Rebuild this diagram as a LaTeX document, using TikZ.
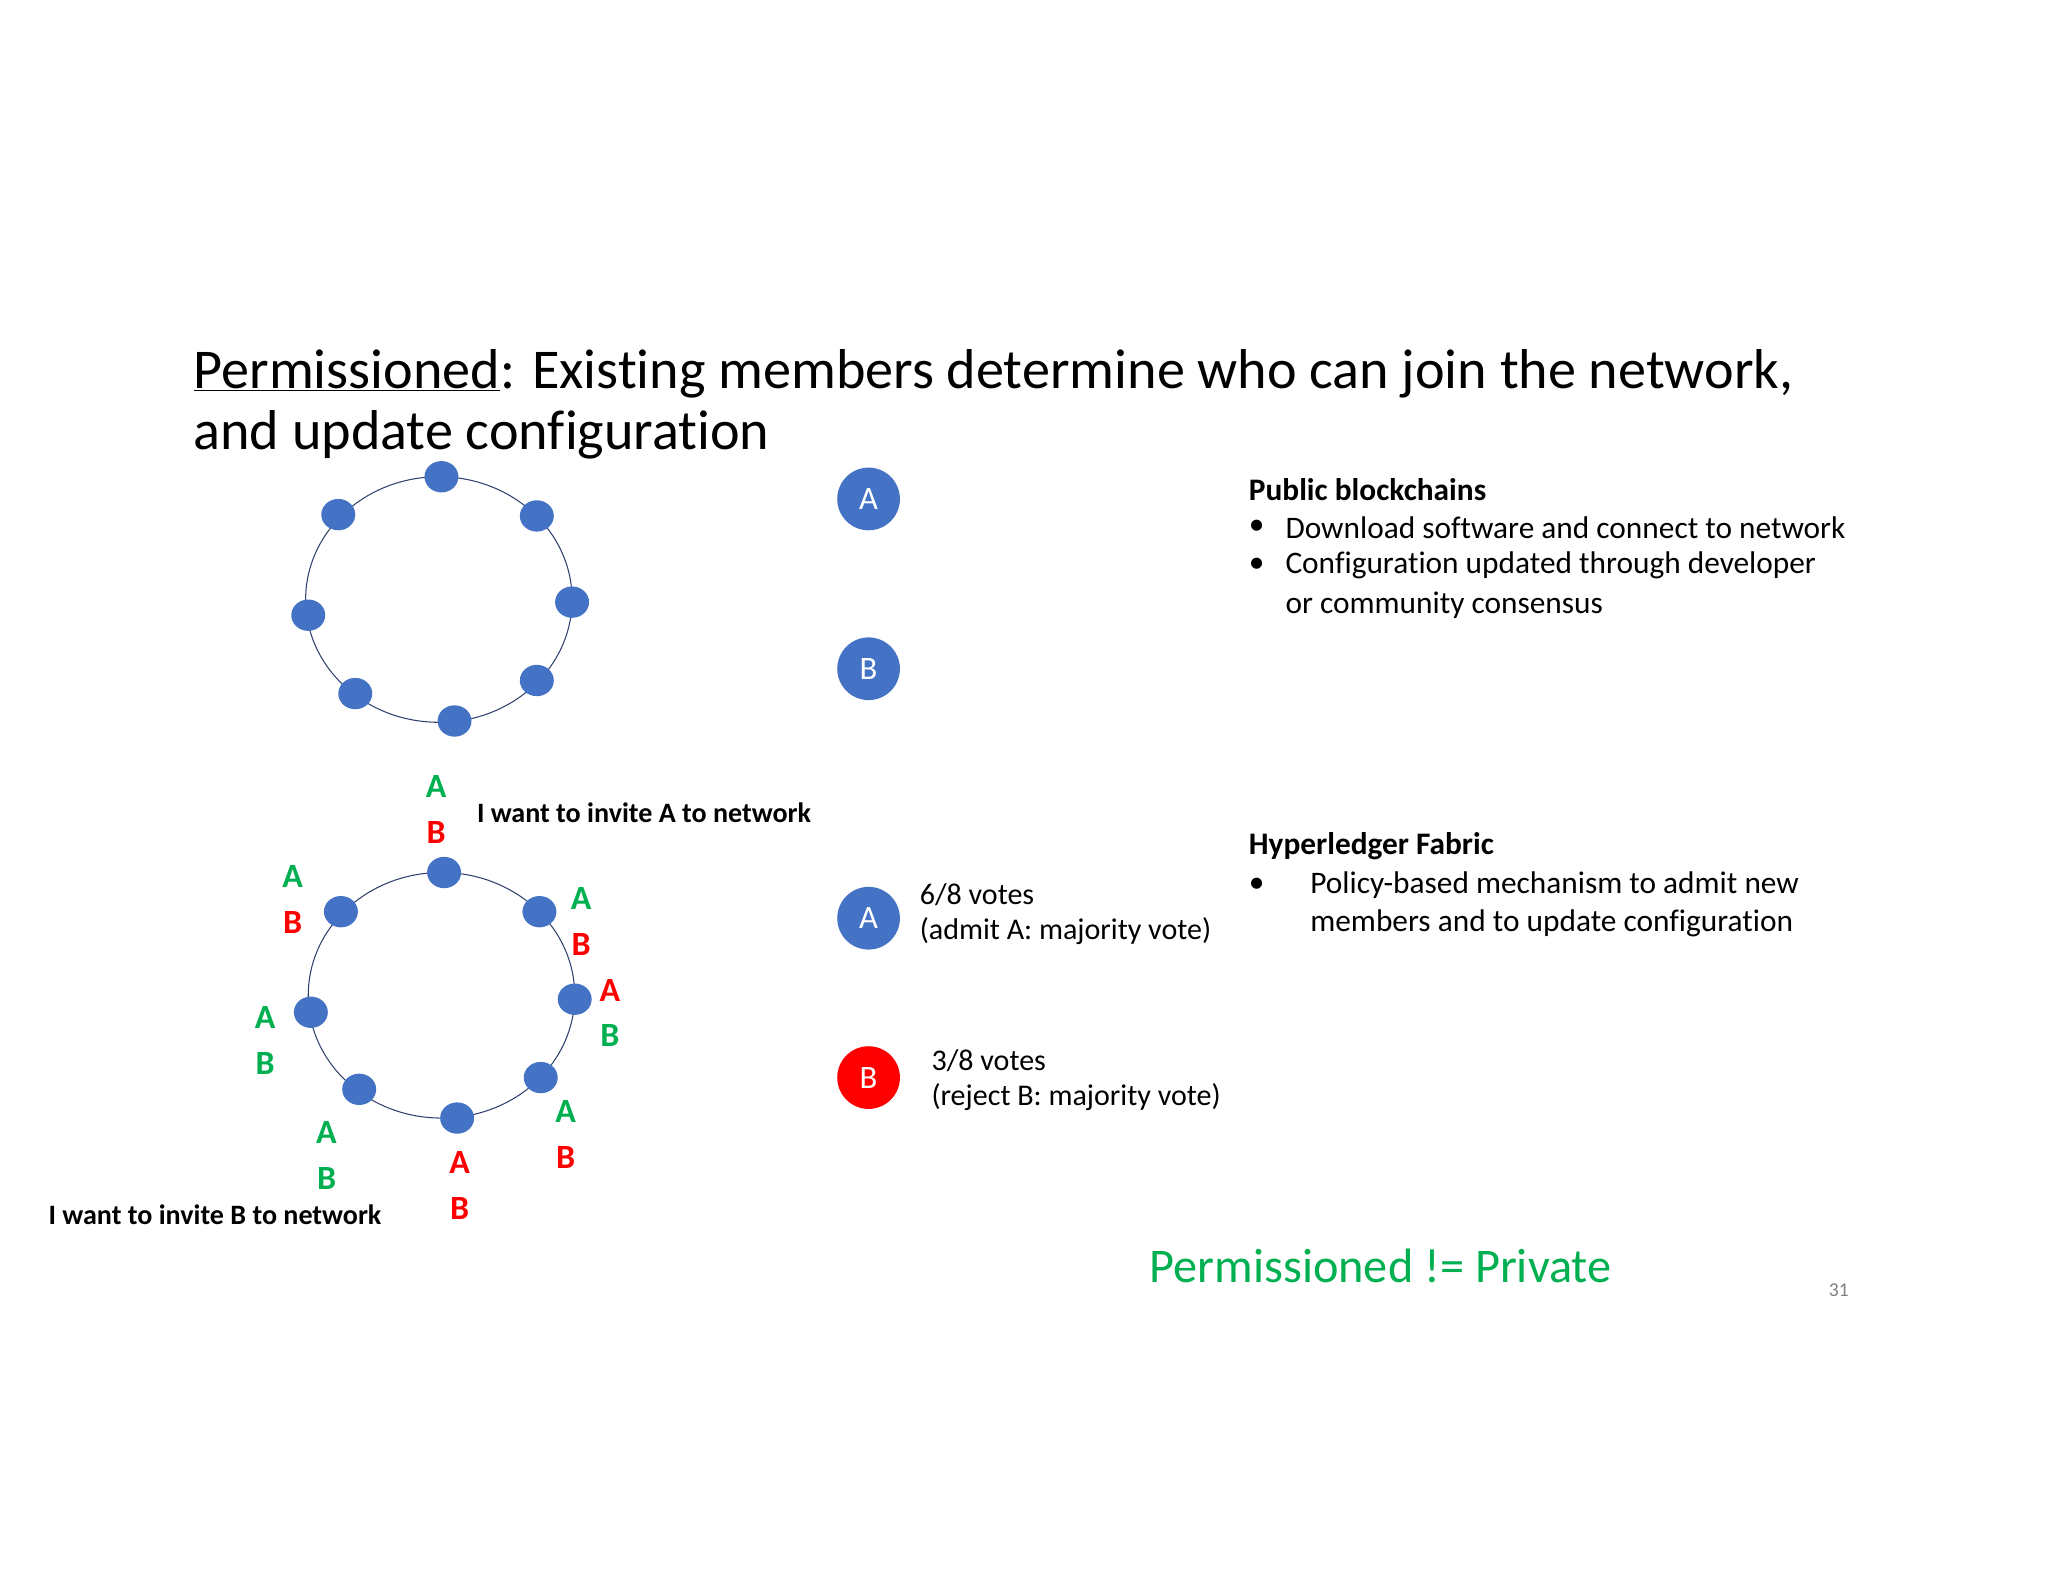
\documentclass[tikz,border=0pt]{standalone}
\usepackage{fontspec}
\setmainfont{Carlito}[Ligatures=NoCommon]
\usetikzlibrary{shapes.geometric}
\definecolor{nb}{HTML}{4472C4}
\definecolor{gr}{HTML}{00B050}
\definecolor{ring}{HTML}{2F3F6F}
\begin{document}
\begin{tikzpicture}[x=1pt,y=-1pt,
 mem/.style={ellipse,fill=nb,minimum width=26pt,minimum height=24pt,inner sep=0pt},
 big/.style={circle,fill=nb,minimum size=48pt,inner sep=0pt,text=white,font=\fontsize{25}{28}\selectfont},
 lab/.style={font=\fontsize{26}{28}\selectfont\bfseries,inner sep=0pt},
 txt/.style={anchor=west,inner sep=0pt,font=\fontsize{24}{26}\selectfont},
 vt/.style={anchor=west,inner sep=0pt,font=\fontsize{23}{26}\selectfont},
 bold/.style={anchor=west,inner sep=0pt,font=\fontsize{21.5}{22}\selectfont\bfseries}]
\useasboundingbox (0,0) rectangle (1568,1211);
% title
\node[anchor=west,inner sep=0pt,font=\fontsize{43}{48}\selectfont] (t1) at (148,286) {\underline{Permissioned}: Existing members determine who can join the network,};
\node[anchor=west,inner sep=0pt,font=\fontsize{43}{48}\selectfont] (t2) at (148,333) {and update configuration};
% top ring
\draw[ring,thick] (336,459) ellipse (102 and 94);
\foreach \n/\x/\y in {a/338/365,b/259/394,c/411/395,d/236/471,e/438/461,f/272/531,g/411/521,h/348/552}
  \node[mem] (t\n) at (\x,\y) {};
% bottom ring
\draw[ring,thick] (338,762) ellipse (102 and 94);
\foreach \n/\x/\y in {a/340/668,b/261/698,c/413/698,d/238/775,e/440/765,f/275/834,g/414/825,h/350/856}
  \node[mem] (b\n) at (\x,\y) {};
% labels
\foreach \x/\y/\ca/\cb in {334/602/gr/red,224/671/gr/red,445/688/gr/red,467/758/red/gr,203/779/gr/gr,250/867/gr/gr,352/890/red/red,433/851/gr/red}{
  \node[lab,text=\ca] at (\x,\y) {A};
  \node[lab,text=\cb] at (\x,\y+35) {B};}
\node[bold] (ia) at (365,622) {I want to invite A to network};
\node[bold] (ib) at (37,930) {I want to invite B to network};
% big nodes
\node[big] (A1) at (665,382) {A};
\node[big] (B1) at (665,512) {B};
\node[big] (A2) at (665,703) {A};
\node[big,fill=red] (B2) at (665,825) {B};
\node[vt] (v1) at (704,685) {6/8 votes};
\node[vt] (v1b) at (704,713) {(admit A: majority vote)};
\node[vt] (v2) at (713,812) {3/8 votes};
\node[vt] (v2b) at (713,840) {(reject B: majority vote)};
% right text
\node[txt,font=\fontsize{24}{26}\selectfont\bfseries] (pb) at (956,375) {Public blockchains};
\node[txt] at (956,404) {•};
\node[txt] at (984,404) {Download software and connect to network};
\node[txt] at (956,433) {•};
\node[txt] at (984,433) {Configuration updated through developer};
\node[txt] at (984,463) {or community consensus};
\node[txt,font=\fontsize{24}{26}\selectfont\bfseries] (hf) at (956,648) {Hyperledger Fabric};
\node[txt] at (956,678) {•};
\node[txt] at (1003,678) {Policy-based mechanism to admit new};
\node[txt] at (1003,707) {members and to update configuration};
\node[txt,text=gr,font=\fontsize{37}{40}\selectfont] (pp) at (880,969) {Permissioned != Private};
\node[txt,text=gray,font=\fontsize{15}{16}\selectfont] (pn) at (1400,988) {31};
\end{tikzpicture}
\end{document}
